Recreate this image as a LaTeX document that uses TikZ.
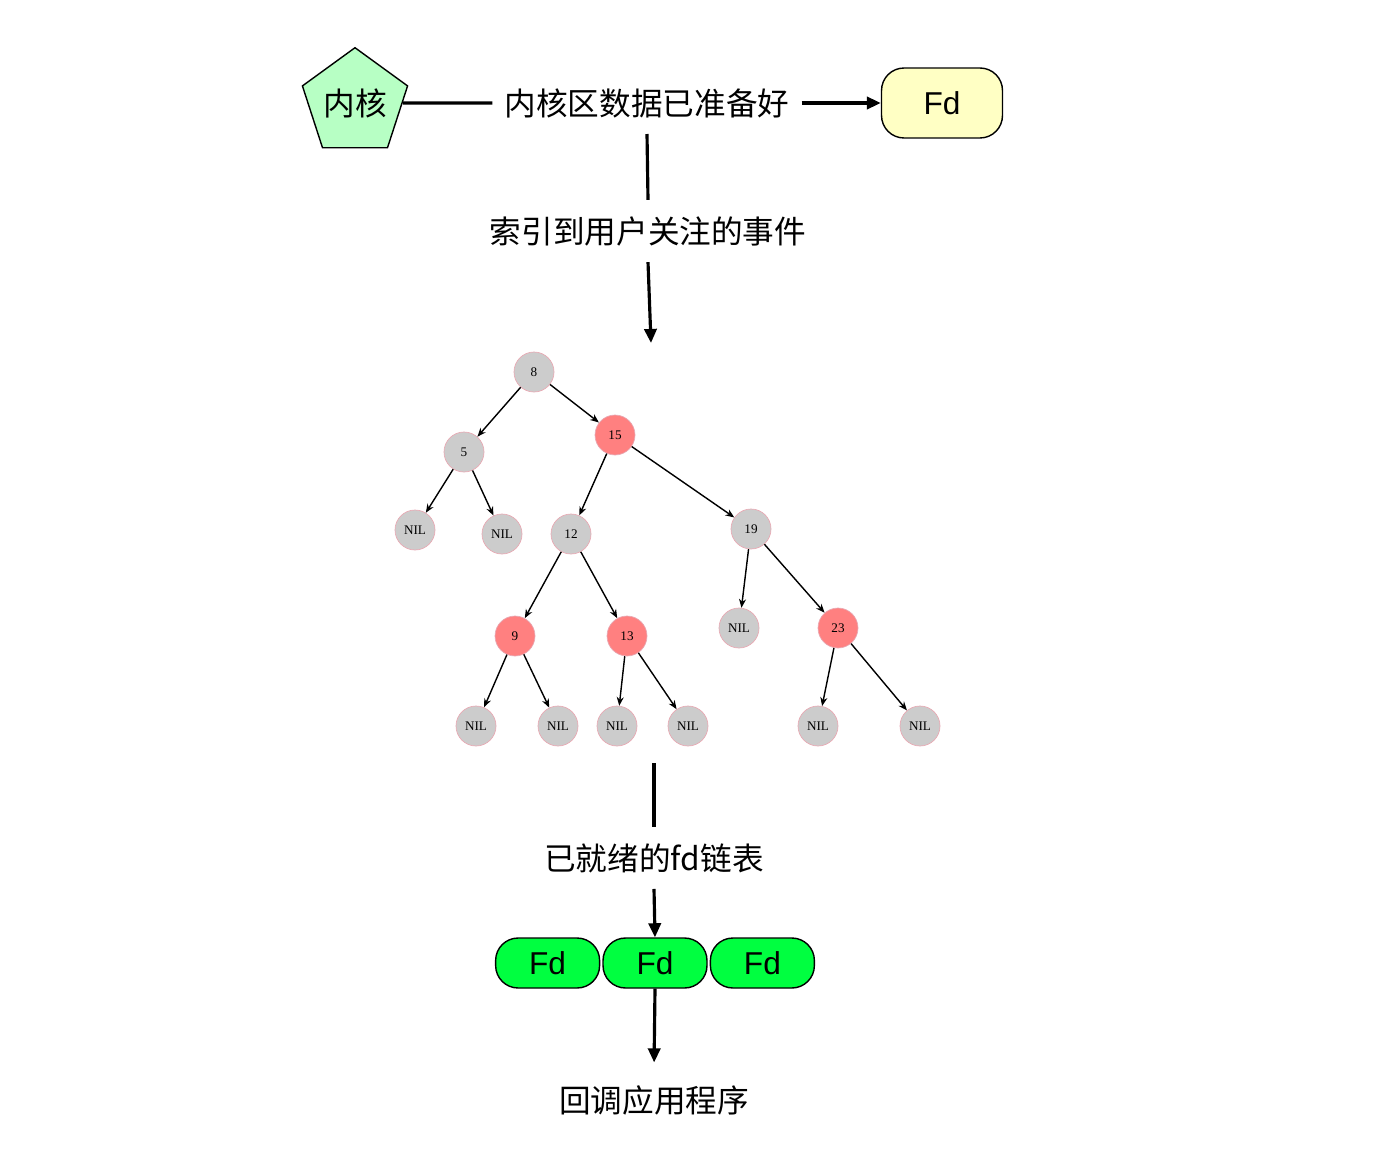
\documentclass[tikz,border=0pt]{standalone}
\usepackage{fontspec}
\usepackage{tikz}
\usetikzlibrary{shapes.geometric, arrows.meta, positioning}
\newfontfamily\cjk{Noto Sans CJK SC}
\newfontfamily\fdfont{Liberation Sans}
\newfontfamily\treefont{Liberation Serif}
\definecolor{kernelgreen}{RGB}{183, 255, 196}
\definecolor{fdyellow}{RGB}{255, 255, 196}
\definecolor{fdgreen}{RGB}{0, 255, 64}
\definecolor{rbgray}{RGB}{204, 204, 204}
\definecolor{rbpink}{RGB}{255, 128, 128}
\definecolor{rbrim}{RGB}{232, 170, 180}

\begin{document}
\begin{tikzpicture}[
    x=0.02cm, y=-0.02cm,
    msg/.style={font=\cjk\fontsize{18}{20}\selectfont, inner xsep=0.24cm, inner ysep=0.32cm},
    kernel/.style={regular polygon, regular polygon sides=5, draw, line width=0.8pt, fill=kernelgreen, minimum size=2.2cm, inner sep=0, font=\cjk\fontsize{18}{20}\selectfont},
    fdbox/.style={rectangle, draw, line width=0.8pt, rounded corners=0.45cm, font=\fdfont\fontsize{18}{20}\selectfont},
    blacknode/.style={circle, draw=rbrim, line width=0.4pt, fill=rbgray, minimum size=0.8cm, inner sep=0, font=\treefont\fontsize{7.5}{8}\selectfont},
    rednode/.style={blacknode, fill=rbpink},
    flow/.style={-{Triangle[length=8pt, width=7pt]}, line width=1.8pt},
    flowline/.style={line width=1.8pt},
    link/.style={-{Stealth[length=5pt, width=4pt]}, line width=0.8pt}
]
    \useasboundingbox (0,0) rectangle (1395,1152);

    % top row
    \node[kernel] (kernel) at (355,103) {内核};
    \node[msg] (ready) at (647,103) {内核区数据已准备好};
    \node[fdbox, fill=fdyellow, minimum width=2.42cm, minimum height=1.4cm] (fdtop) at (942,103) {Fd};
    \node[msg] (index) at (648,231) {索引到用户关注的事件};
    \coordinate (treetop) at (651,343);

    % red-black tree
    \node[blacknode] (n8) at (534,372) {8};
    \node[blacknode] (n5) at (464,452) {5};
    \node[rednode] (n15) at (615,435) {15};
    \node[blacknode] (nilA) at (415,530) {NIL};
    \node[blacknode] (nilB) at (502,534) {NIL};
    \node[blacknode] (n12) at (571,534) {12};
    \node[blacknode] (n19) at (751,529) {19};
    \node[rednode] (n9) at (515,636) {9};
    \node[rednode] (n13) at (627,636) {13};
    \node[blacknode] (nilC) at (739,628) {NIL};
    \node[rednode] (n23) at (838,628) {23};
    \node[blacknode] (nilD) at (476,726) {NIL};
    \node[blacknode] (nilE) at (558,726) {NIL};
    \node[blacknode] (nilF) at (617,726) {NIL};
    \node[blacknode] (nilG) at (688,726) {NIL};
    \node[blacknode] (nilH) at (818,726) {NIL};
    \node[blacknode] (nilI) at (920,726) {NIL};

    \draw[link] (n8) -- (n5);
    \draw[link] (n8) -- (n15);
    \draw[link] (n5) -- (nilA);
    \draw[link] (n5) -- (nilB);
    \draw[link] (n15) -- (n12);
    \draw[link] (n15) -- (n19);
    \draw[link] (n12) -- (n9);
    \draw[link] (n12) -- (n13);
    \draw[link] (n19) -- (nilC);
    \draw[link] (n19) -- (n23);
    \draw[link] (n9) -- (nilD);
    \draw[link] (n9) -- (nilE);
    \draw[link] (n13) -- (nilF);
    \draw[link] (n13) -- (nilG);
    \draw[link] (n23) -- (nilH);
    \draw[link] (n23) -- (nilI);

    % ready list
    \coordinate (treebot) at (654,763);
    \node[msg] (readylist) at (654,858) {已就绪的fd链表};
    \node[fdbox, fill=fdgreen, minimum width=2.08cm, minimum height=1cm] (fd2) at (655,963) {Fd};
    \node[fdbox, fill=fdgreen, minimum width=2.08cm, minimum height=1cm, left=0.04cm of fd2] (fd1) {Fd};
    \node[fdbox, fill=fdgreen, minimum width=2.08cm, minimum height=1cm, right=0.04cm of fd2] (fd3) {Fd};
    \node[msg] (callback) at (654,1100) {回调应用程序};

    \draw[flowline] (kernel.east) -- (ready.west);
    \draw[flow] (ready.east) -- (fdtop.west);
    \draw[flowline] (ready.south) -- (index.north);
    \draw[flow] (index.south) -- (treetop);
    \draw[flowline] (treebot) -- (readylist.north);
    \draw[flow] (readylist.south) -- (fd2.north);
    \draw[flow, shorten >=0.13cm] (fd2.south) -- (callback.north);
\end{tikzpicture}
\end{document}
